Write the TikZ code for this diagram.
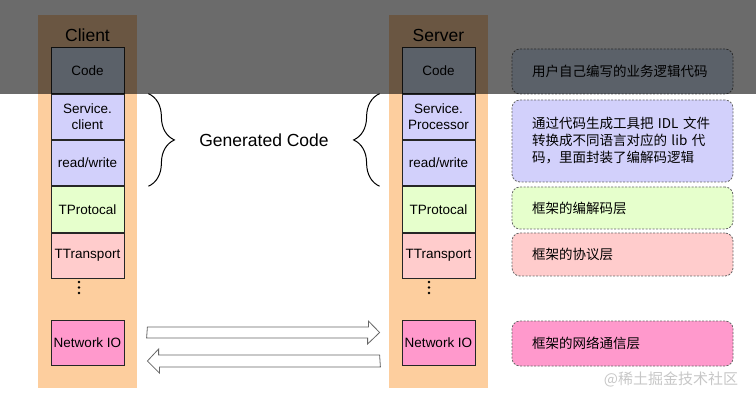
\documentclass[tikz,border=0pt]{standalone}
\usepackage{fontspec}
\setmainfont{Liberation Sans}
\newfontfamily\cjk{Noto Sans CJK SC}
\usetikzlibrary{calc,positioning,decorations.pathreplacing}
\definecolor{colbg}{HTML}{FDCE9E}
\definecolor{codeblue}{HTML}{DAE8FC}
\definecolor{genlilac}{HTML}{D2D0FB}
\definecolor{protogreen}{HTML}{E6FFCC}
\definecolor{transred}{HTML}{FFCCCC}
\definecolor{netpink}{HTML}{FF99CC}

\begin{document}
\begin{tikzpicture}[x=1pt, y=-1pt,
                    line width=0.8pt,
                    font=\fontsize{13.5}{15.5}\selectfont]
    \tikzstyle{column}=[fill=colbg, minimum width=99pt, minimum height=373pt, inner sep=0pt]
    \tikzstyle{title}=[font=\fontsize{17.5}{20}\selectfont]
    \tikzstyle{layer}=[draw=black!85, minimum width=73pt, minimum height=45.5pt, inner sep=1pt, align=center]
    \tikzstyle{note}=[draw=black!60, dash pattern=on 2pt off 1.5pt, rounded corners=8pt,
                      text width=181pt, inner xsep=20pt, align=left,
                      font=\cjk\fontsize{13.5}{17}\selectfont]
    \tikzstyle{gbrace}=[decorate, decoration={brace, amplitude=26pt}, line width=1pt]
    \tikzstyle{fatarrow}=[draw=black!60, fill=white, line width=0.8pt]
    \tikzstyle{dot}=[circle, fill=black, inner sep=0pt, minimum size=2.6pt]

    \useasboundingbox (0,0) rectangle (756,401);

    % client side
    \node[column] (ccol) at (87.5,201.5) {};
    \node[title] (ctitle) at (87.5,35) {Client};
    \node[layer, fill=codeblue] (ccode) at (87.5,70.5) {Code};
    \node[layer, fill=genlilac, below=0pt of ccode] (csvc) {Service.\\client};
    \node[layer, fill=genlilac, below=0pt of csvc] (crw) {read/write};
    \node[layer, fill=protogreen, below=0pt of crw] (cproto) {TProtocal};
    \node[layer, fill=transred, below=0pt of cproto] (ctrans) {TTransport};
    \node[dot] (cd1) at (79,282) {};
    \node[dot] (cd2) at (79,287.5) {};
    \node[dot] (cd3) at (79,293) {};
    \node[layer, fill=netpink] (cnet) at (87.5,343) {Network IO};

    % server side
    \node[column] (scol) at (438.5,201.5) {};
    \node[title] (stitle) at (438.5,35) {Server};
    \node[layer, fill=codeblue] (scode) at (438.5,70.5) {Code};
    \node[layer, fill=genlilac, below=0pt of scode] (ssvc) {Service.\\Processor};
    \node[layer, fill=genlilac, below=0pt of ssvc] (srw) {read/write};
    \node[layer, fill=protogreen, below=0pt of srw] (sproto) {TProtocal};
    \node[layer, fill=transred, below=0pt of sproto] (strans) {TTransport};
    \node[dot] (sd1) at (429,282) {};
    \node[dot] (sd2) at (429,287.5) {};
    \node[dot] (sd3) at (429,293) {};
    \node[layer, fill=netpink] (snet) at (438.5,343) {Network IO};

    % generated code braces
    \draw[gbrace] ([xshift=24pt]csvc.north east) -- ([xshift=24pt]crw.south east);
    \draw[gbrace] ([xshift=-22pt]srw.south west) -- ([xshift=-22pt]ssvc.north west);
    \node[title] (gen) at (264,140) {Generated Code};

    % network arrows
    \coordinate (txL) at ($(cnet.east)+(23,-10.5)$);
    \coordinate (txR) at ($(snet.west)+(-22,-10.5)$);
    \coordinate (rxL) at ($(cnet.east)+(23,18)$);
    \coordinate (rxR) at ($(snet.west)+(-22,18)$);
    \draw[fatarrow] (txL) ++(0,-5.5) -- ++(221,0) -- ++(0,-6) -- (txR)
        -- ++(-12,11.5) -- ++(0,-6) -- ++(-221,0) -- cycle;
    \draw[fatarrow] (rxR) ++(0,-6) -- ++(-221,0) -- ++(0,-6) -- (rxL)
        -- ++(12,12) -- ++(0,-6) -- ++(221,0) -- cycle;

    % notes
    \node[note, fill=codeblue, minimum height=45pt] (n1) at (622.5,71.5) {用户自己编写的业务逻辑代码};
    \node[note, fill=genlilac, minimum height=82pt] (n2) at (622.5,141)
        {通过代码生成工具把 IDL 文件\\转换成不同语言对应的 lib 代\\码，里面封装了编解码逻辑};
    \node[note, fill=protogreen, minimum height=42pt] (n3) at (622.5,208) {框架的编解码层};
    \node[note, fill=transred, minimum height=43pt] (n4) at (622.5,254.5) {框架的协议层};
    \node[note, fill=netpink, minimum height=45pt] (n5) at (622.5,343.5) {框架的网络通信层};

    \node[text=black!22, font=\cjk\fontsize{15}{15}\selectfont] (mark) at (671,379) {@稀土掘金技术社区};

    % dark band over the top
    \fill[black, opacity=0.58] (0,0) rectangle (756,94);
\end{tikzpicture}
\end{document}
